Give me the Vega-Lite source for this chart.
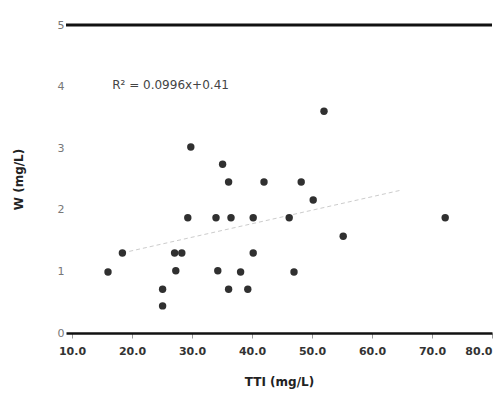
{
  "$schema": "https://vega.github.io/schema/vega-lite/v6.json",
  "width": 426,
  "height": 308,
  "autosize": "none",
  "padding": {"left": 66, "top": 25, "right": 10, "bottom": 61},
  "background": "white",
  "config": {"view": {"stroke": null}, "font": "DejaVu Sans", "axis": {"grid": false}},
  "datasets": {
    "pts": [
      {"x": 29.8, "y": 3.02}, {"x": 35.1, "y": 2.74}, {"x": 36.1, "y": 2.45}, {"x": 42.0, "y": 2.45},
      {"x": 48.2, "y": 2.45}, {"x": 50.2, "y": 2.16}, {"x": 52.0, "y": 3.60}, {"x": 29.3, "y": 1.87},
      {"x": 34.0, "y": 1.87}, {"x": 36.5, "y": 1.87}, {"x": 40.2, "y": 1.87}, {"x": 46.2, "y": 1.87},
      {"x": 72.2, "y": 1.87}, {"x": 55.2, "y": 1.57}, {"x": 18.4, "y": 1.30}, {"x": 27.1, "y": 1.30},
      {"x": 28.3, "y": 1.30}, {"x": 40.2, "y": 1.30}, {"x": 16.0, "y": 0.99}, {"x": 27.3, "y": 1.01},
      {"x": 34.3, "y": 1.01}, {"x": 38.1, "y": 0.99}, {"x": 47.0, "y": 0.99}, {"x": 25.1, "y": 0.71},
      {"x": 36.1, "y": 0.71}, {"x": 39.3, "y": 0.71}, {"x": 25.1, "y": 0.44}
    ],
    "trend": [{"x": 18.4, "y": 1.30}, {"x": 64.9, "y": 2.32}],
    "note": [{"x": 16.7, "y": 4.03, "label": "R² = 0.0996x+0.41"}]
  },
  "encoding": {
    "x": {"field": "x", "type": "quantitative", "scale": {"domain": [9, 80], "nice": false},
      "axis": {"title": "TTI (mg/L)", "values": [10, 20, 30, 40, 50, 60, 70, 80], "format": ".1f",
        "domainColor": "#111111", "domainWidth": 2.5, "tickColor": "#999999", "tickSize": 5,
        "labelPadding": 7, "labelFontSize": 11, "labelColor": "#333333", "labelFontWeight": "bold",
        "labelFlush": true, "labelFlushOffset": 0,
        "titleFontSize": 12, "titleFontWeight": "bold", "titleColor": "#222222", "titlePadding": 20}},
    "y": {"field": "y", "type": "quantitative", "scale": {"domain": [0, 5], "nice": false},
      "axis": {"title": "W (mg/L)", "values": [0, 1, 2, 3, 4, 5], "format": "d",
        "domain": false, "ticks": false, "labelPadding": 2, "labelFontSize": 11, "labelColor": "#777777",
        "titleFontSize": 12, "titleFontWeight": "bold", "titleColor": "#222222", "titlePadding": 32}}
  },
  "layer": [
    {
      "data": {"name": "trend"},
      "mark": {"type": "line", "color": "#cccccc", "strokeDash": [4, 3], "strokeWidth": 1}
    },
    {
      "data": {"name": "pts"},
      "mark": {"type": "circle", "size": 55, "color": "#1a1a1a", "opacity": 0.9}
    },
    {
      "data": {"name": "note"},
      "mark": {"type": "text", "align": "left", "baseline": "middle", "fontSize": 12, "color": "#444444"},
      "encoding": {"text": {"field": "label"}}
    },
    {
      "data": {"values": [{"v": 5}]},
      "mark": {"type": "rule", "color": "#111111", "strokeWidth": 3},
      "encoding": {"x": null, "y": {"field": "v", "type": "quantitative"}}
    }
  ]
}
